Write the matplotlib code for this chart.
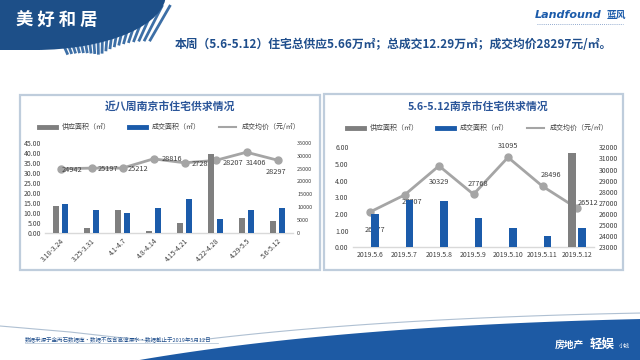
import matplotlib
matplotlib.use("Agg")
import matplotlib.pyplot as plt
from matplotlib.patches import Ellipse, Rectangle, Polygon
from matplotlib.lines import Line2D
import numpy as np

plt.rcParams['font.family'] = ['Noto Sans CJK SC', 'DejaVu Sans']

# --- data (万㎡ for areas, 元/㎡ for price) ---
weeks = ['3.18-3.24', '3.25-3.31', '4.1-4.7', '4.8-4.14',
         '4.15-4.21', '4.22-4.28', '4.29-5.5', '5.6-5.12']
week_supply = [13.3, 2.4, 11.2, 1.0, 4.8, 39.6, 7.5, 5.66]
week_deal = [14.5, 11.2, 9.9, 12.2, 17.0, 7.1, 11.6, 12.29]
week_price = [24942, 25197, 25212, 28816, 27283, 28207, 31406, 28297]

days = ['2019.5.6', '2019.5.7', '2019.5.8', '2019.5.9',
        '2019.5.10', '2019.5.11', '2019.5.12']
day_supply = [0, 0, 0, 0, 0, 0, 5.66]
day_deal = [2.0, 2.85, 2.75, 1.75, 1.15, 0.65, 1.15]
day_price = [26177, 27707, 30329, 27768, 31095, 28496, 26512]

legend_names = ['供应面积（㎡）', '成交面积（㎡）', '成交均价（元/㎡）']

GRAY = '#7F7F7F'
BLUE = '#1B5BAA'
LINE = '#A5A5A5'
NAVY = '#1F4E8C'
TITLE = '#2A5599'

W, H = 640, 360
fig = plt.figure(figsize=(6.4, 3.6), dpi=100)
fig.patch.set_facecolor('white')


def box(x0, y0, x1, y1):
    # pixel box (y down) -> figure fraction rect
    return [x0 / W, 1 - y1 / H, (x1 - x0) / W, (y1 - y0) / H]


# background / decoration layer in pixel coords
bg = fig.add_axes([0, 0, 1, 1], zorder=0)
bg.set_xlim(0, W)
bg.set_ylim(H, 0)
bg.axis('off')

# header sunburst rays (short dashes at the bottom, long diagonals on the right)
cx, cy = 100, 127
for a in np.linspace(60, 114, 20):
    t = np.radians(a)
    r_in = 72 + (90 - a) * 0.9 if a < 90 else 72 + (a - 90) * 0.3
    r_out = min(r_in + 60, (cy - 5) / np.sin(t))
    bg.plot([cx + r_in * np.cos(t), cx + r_out * np.cos(t)],
            [cy - r_in * np.sin(t), cy - r_out * np.sin(t)],
            color='#3D6FA6', lw=2.0, solid_capstyle='butt', zorder=1)
bg.add_patch(Rectangle((0, 0), 40, 50, color='#1D4F88', zorder=2, lw=0))
bg.add_patch(Ellipse((35, -6), 262, 112, color='#1D4F88', zorder=2, lw=0))
bg.text(16, 21, '美 好 和 居', color='white', fontsize=12.5, fontweight='bold',
        va='center', ha='left', zorder=3)

# headline
bg.text(175, 44, '本周（5.6-5.12）住宅总供应5.66万㎡；总成交12.29万㎡；成交均价28297元/㎡。',
        color=NAVY, fontsize=8.5, fontweight='bold', va='center', ha='left')

# logo top-right
bg.text(535, 15, 'Landfound', color=BLUE, fontsize=8, fontweight='bold',
        fontstyle='italic', family='DejaVu Sans', va='center', ha='left')
bg.text(607, 15, '蓝风', color=BLUE, fontsize=7, fontweight='bold',
        va='center', ha='left')
bg.plot([537, 623], [24, 24], color='#6F8FBF', lw=0.6, ls=(0, (1, 1.5)))

# panel frames
for x0, y0, x1, y1 in [(20, 95, 320, 270), (324, 94, 623, 270)]:
    bg.add_patch(Rectangle((x0, y0), x1 - x0, y1 - y0, fill=False,
                           edgecolor='#BFCDDC', lw=1.6, zorder=1))

# footer swoosh
t = np.linspace(0, 1, 60)
p0, p1, p2 = np.array([128, 362]), np.array([330, 326]), np.array([642, 319])
curve = ((1 - t) ** 2)[:, None] * p0 + (2 * (1 - t) * t)[:, None] * p1 + (t ** 2)[:, None] * p2
bg.add_patch(Polygon(np.vstack([curve, [[642, 362]]]), closed=True,
                     color='#1D5AA4', lw=0, zorder=2))
bg.plot([0, 70, 150], [326, 332, 341], color='#AFC0D2', lw=0.8, zorder=1)
g0, g1, g2 = np.array([200, 340]), np.array([380, 318]), np.array([642, 313])
gl = ((1 - t) ** 2)[:, None] * g0 + (2 * (1 - t) * t)[:, None] * g1 + (t ** 2)[:, None] * g2
bg.plot(gl[:, 0], gl[:, 1], color='#AFC0D2', lw=0.8, zorder=1)
bg.text(25, 339, '数据来源于金丙石数据库•数据不包含高淳溧水•数据截止于2019年5月12日',
        color=NAVY, fontsize=4, va='center', ha='left', zorder=3)
bg.plot([25, 218], [343, 343], color='#AFC0D2', lw=0.5, zorder=3)
bg.text(555, 345, '房地产', color='white', fontsize=7, fontweight='bold',
        va='center', ha='left', zorder=3)
bg.text(590, 344, '轻娱', color='white', fontsize=9, fontweight='bold',
        fontstyle='italic', va='center', ha='left', zorder=3)
bg.text(619, 346, '小钱', color='white', fontsize=4, va='center', ha='left', zorder=3)


def chart(rect, cats, supply, deal, price, ymax, ystep, y2min, y2max, y2step,
          offsets, leaders, title, title_xy, legend_y, rotate, y2size):
    ax = fig.add_axes(rect, zorder=3)
    ax2 = ax.twinx()
    n = len(cats)
    x = np.arange(n)
    ax2.plot(x, price, color=LINE, lw=2, marker='o', ms=5, zorder=2)
    for i, (v, (dx, dy)) in enumerate(zip(price, offsets)):
        arrow = dict(arrowstyle='-', color='#A5A5A5', lw=0.5,
                     shrinkA=3, shrinkB=3) if i in leaders else None
        ax2.annotate(str(v), (x[i], v), xytext=(dx, dy), textcoords='offset pixels',
                     ha='center', va='center', fontsize=5.3, color='#404040',
                     arrowprops=arrow)
    ax.bar(x - 0.145, supply, 0.21, color=GRAY, zorder=3)
    ax.bar(x + 0.145, deal, 0.21, color=BLUE, zorder=3)
    ax.set_zorder(ax2.get_zorder() + 1)
    ax.patch.set_visible(False)
    ax.set_xlim(-0.5, n - 0.5)
    ax.set_ylim(0, ymax)
    ax.set_yticks(np.arange(0, ymax + 0.001, ystep))
    ax.set_yticklabels(['%.2f' % v for v in np.arange(0, ymax + 0.001, ystep)])
    ax2.set_ylim(y2min, y2max)
    ax2.set_yticks(np.arange(y2min, y2max + 1, y2step))
    ax.set_xticks(x)
    if rotate:
        ax.set_xticklabels(cats, rotation=45, ha='right', rotation_mode='anchor')
    else:
        ax.set_xticklabels(cats)
    for a in (ax, ax2):
        for s in a.spines.values():
            s.set_visible(False)
        a.tick_params(length=0, labelsize=5, colors='#404040', pad=3)
    ax2.tick_params(labelsize=y2size)
    ax.spines['bottom'].set_visible(True)
    ax.spines['bottom'].set_color('#D9D9D9')
    ax.spines['bottom'].set_linewidth(1)
    bg.text(title_xy[0], title_xy[1], title, color=TITLE, fontsize=7.8,
            fontweight='bold', ha='center', va='center')
    handles = [Line2D([], [], color=GRAY, lw=3.5),
               Line2D([], [], color=BLUE, lw=3.5),
               Line2D([], [], color=LINE, lw=1.5)]
    fig.legend(handles, legend_names, loc='center', ncol=3, frameon=False,
               bbox_to_anchor=(title_xy[0] / W, 1 - legend_y / H), fontsize=5,
               handlelength=2.4, handletextpad=0.9, columnspacing=2.6,
               labelcolor='#404040')
    return ax


chart(box(45, 143, 293, 232.7), weeks, week_supply, week_deal, week_price,
      45, 5, 0, 35000, 5000,
      [(11, -1), (16, -1), (15, -1), (18, 0), (17, -1), (17, -3), (10, -11), (-2, -12)],
      [], '近八周南京市住宅供求情况', (170, 106), 127, True, 4)

chart(box(352.75, 147.3, 594.25, 247.3), days, day_supply, day_deal, day_price,
      6, 1, 23000, 32000, 1000,
      [(5, -18), (7, -7), (0, -16), (4, 10), (0, 11), (8, 11), (11, 5)],
      [0, 5], '5.6-5.12南京市住宅供求情况', (478, 106), 128, False, 5)

fig.savefig('out.png', dpi=100)
